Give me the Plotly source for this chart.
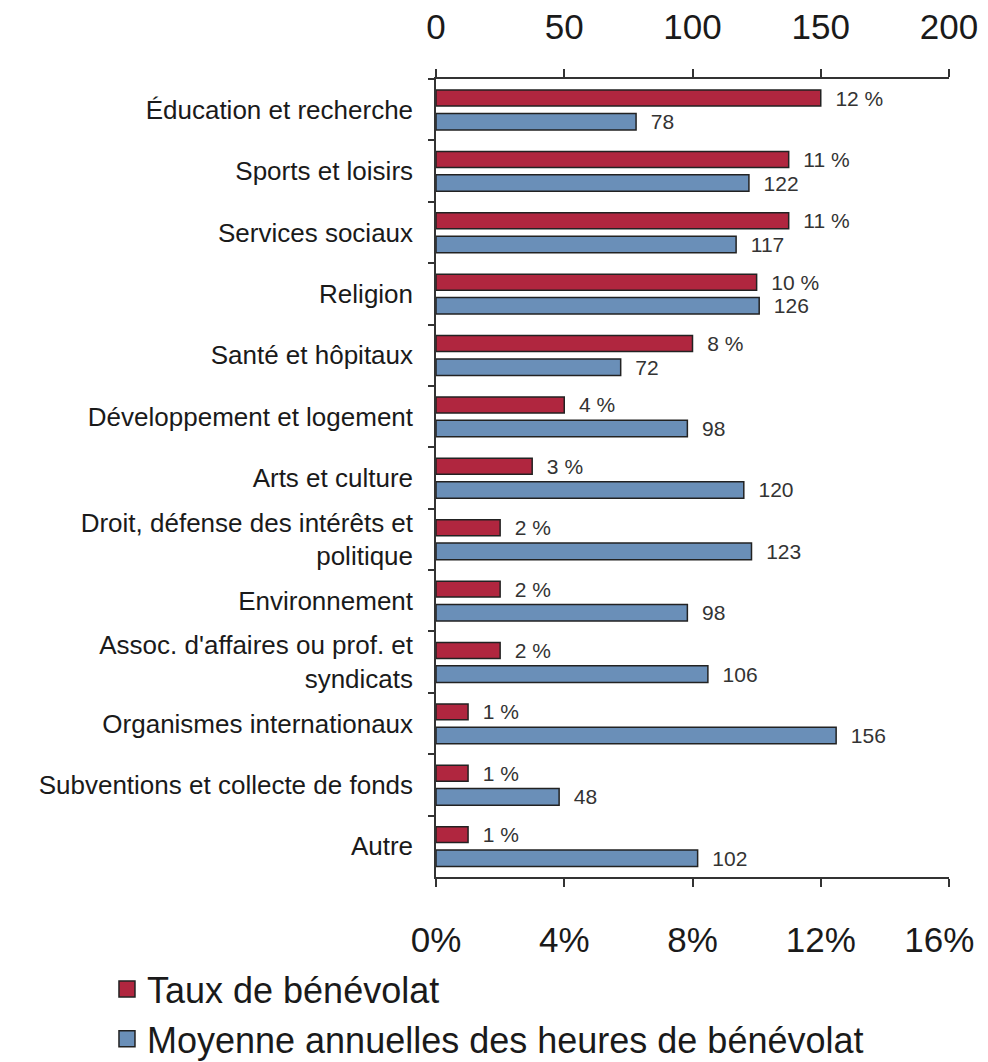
import plotly.graph_objects as go

categories = [
    "Éducation et recherche",
    "Sports et loisirs",
    "Services sociaux",
    "Religion",
    "Santé et hôpitaux",
    "Développement et logement",
    "Arts et culture",
    "Droit, défense des intérêts et<br>politique",
    "Environnement",
    "Assoc. d'affaires ou prof. et<br>syndicats",
    "Organismes internationaux",
    "Subventions et collecte de fonds",
    "Autre",
]
taux = [12, 11, 11, 10, 8, 4, 3, 2, 2, 2, 1, 1, 1]
heures = [78, 122, 117, 126, 72, 98, 120, 123, 98, 106, 156, 48, 102]
pct_ticks = [0, 4, 8, 12, 16]
pct_labels = ["0%", "4%", "8%", "12%", "16%"]
hour_ticks = [0, 50, 100, 150, 200]
series_names = ["Taux de bénévolat", "Moyenne annuelles des heures de bénévolat"]

RED = "#B0263F"
BLUE = "#6A8FB8"
EDGE = "#222222"
FONT = "Liberation Sans, Arial, sans-serif"

# keep the last bottom tick label inside the visible page edge
bottom_ticktext = pct_labels[:-1] + [pct_labels[-1] + "\u00a0\u00a0"]

fig = go.Figure()
fig.add_trace(go.Bar(
    y=categories, x=taux, orientation="h", name=series_names[0],
    marker=dict(color=RED, line=dict(color=EDGE, width=1.5)),
    offset=-0.32, width=0.26, xaxis="x", yaxis="y",
    text=["\u00a0\u00a0%d %%" % v for v in taux], textposition="outside",
    constraintext="none",
    textfont=dict(size=21, color="#333333", family=FONT),
    showlegend=False, cliponaxis=False,
))
fig.add_trace(go.Bar(
    y=categories, x=heures, orientation="h", name=series_names[1],
    marker=dict(color=BLUE, line=dict(color=EDGE, width=1.5)),
    offset=0.06, width=0.27, xaxis="x2", yaxis="y",
    text=["\u00a0\u00a0%d" % v for v in heures], textposition="outside",
    constraintext="none",
    textfont=dict(size=21, color="#333333", family=FONT),
    showlegend=False, cliponaxis=False,
))
# legend entries with larger square swatches
for name, col in zip(series_names, [RED, BLUE]):
    fig.add_trace(go.Scatter(
        x=[None], y=[None], mode="markers", name=name,
        marker=dict(symbol="square", size=18, color=col, line=dict(color=EDGE, width=1.5)),
        xaxis="x", yaxis="y", showlegend=True,
    ))

fig.update_layout(
    width=980, height=1054,
    margin=dict(l=428, r=39, t=71, b=185, autoexpand=False),
    paper_bgcolor="white", plot_bgcolor="white",
    font=dict(family=FONT, color="#1a1a1a"),
    barmode="overlay",
    xaxis=dict(
        range=[0, 16], tickmode="array", tickvals=pct_ticks, ticktext=bottom_ticktext,
        showgrid=False, zeroline=False, showline=True, linecolor="#333333", linewidth=1.5,
        ticks="outside", ticklen=8, tickcolor="#333333", tickwidth=1.5, automargin=False,
        tickfont=dict(size=35, color="#1a1a1a"), ticklabelstandoff=23,
        ticklabeloverflow="allow",
    ),
    xaxis2=dict(
        range=[0, 200], tickmode="array", tickvals=hour_ticks, overlaying="x", side="top",
        showgrid=False, zeroline=False, showline=True, linecolor="#333333", linewidth=1.5,
        ticks="outside", ticklen=8, tickcolor="#333333", tickwidth=1.5, automargin=False,
        tickfont=dict(size=35, color="#1a1a1a"), ticklabelstandoff=16,
        ticklabeloverflow="allow",
    ),
    yaxis=dict(
        autorange="reversed", showgrid=False, zeroline=False,
        showline=True, linecolor="#333333", linewidth=1.5,
        ticks="outside", ticklen=6, tickcolor="#333333", tickwidth=1.5,
        tickson="boundaries", automargin=False,
        tickfont=dict(size=26, color="#1a1a1a"), ticklabelstandoff=16,
    ),
    legend=dict(
        xref="container", yref="container",
        x=0.101, xanchor="left", y=0.0977, yanchor="top",
        font=dict(size=36, color="#1a1a1a"), traceorder="normal",
        itemwidth=30, itemsizing="trace", bgcolor="rgba(0,0,0,0)",
    ),
    showlegend=True,
)

fig.write_html("out.html")
